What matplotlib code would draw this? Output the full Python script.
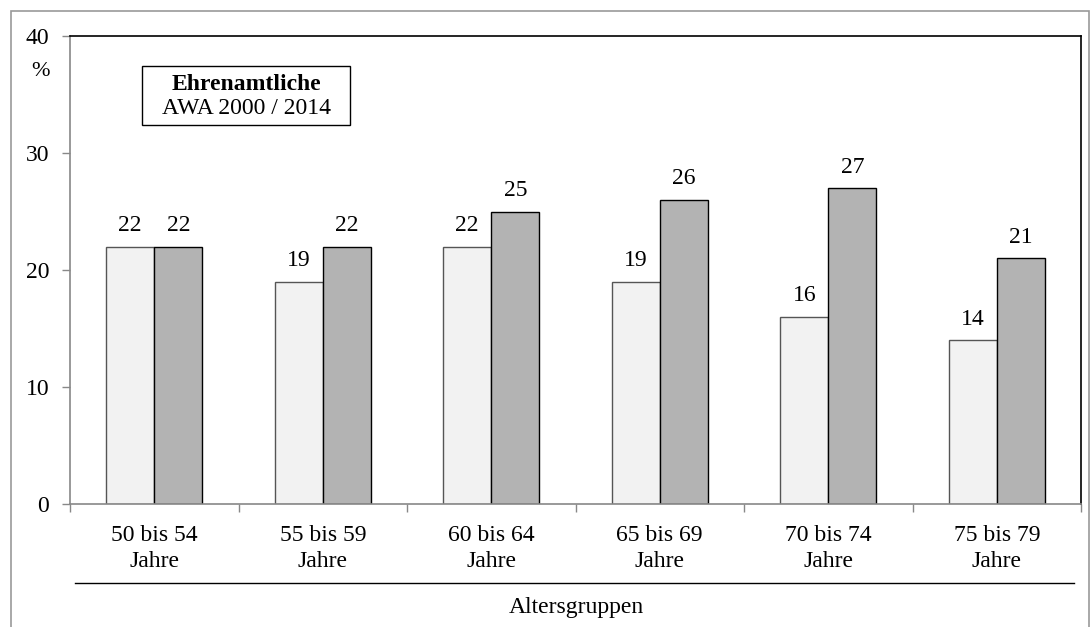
import matplotlib.pyplot as plt
import matplotlib.patches as mpatches
import numpy as np

plt.rcParams['font.family'] = ['Liberation Serif', 'DejaVu Serif']

groups = ['50 bis 54\nJahre', '55 bis 59\nJahre', '60 bis 64\nJahre',
          '65 bis 69\nJahre', '70 bis 74\nJahre', '75 bis 79\nJahre']
awa2000 = [22, 19, 22, 19, 16, 14]
awa2014 = [22, 22, 25, 26, 27, 21]
yticks = [0, 10, 20, 30, 40]

FS = 17
fig = plt.figure(figsize=(10.92, 6.27), dpi=100)
W, H = 1092, 627
ax = fig.add_axes([70 / W, 1 - 504 / H, (1081 - 70) / W, (504 - 36) / H])

x = np.arange(len(groups))
bw = 0.285
ax.bar(x - bw / 2, awa2000, bw, color='#f2f2f2', edgecolor='#555555', linewidth=1)
ax.bar(x + bw / 2, awa2014, bw, color='#b3b3b3', edgecolor='black', linewidth=1)

for xi, v in zip(x, awa2000):
    ax.annotate(str(v), (xi - bw / 2, v), xytext=(0, 7.5), textcoords='offset points',
                ha='center', va='bottom', fontsize=FS)
for xi, v in zip(x, awa2014):
    ax.annotate(str(v), (xi + bw / 2, v), xytext=(0, 7.5), textcoords='offset points',
                ha='center', va='bottom', fontsize=FS)

ax.set_xlim(-0.5, len(groups) - 0.5)
ax.set_ylim(0, 40)
ax.set_yticks(yticks)
ax.set_yticklabels([str(t) for t in yticks], fontsize=FS)
ax.set_xticks(np.arange(len(groups) + 1) - 0.5)
ax.set_xticklabels([])
ax.set_xticks(x, minor=True)
ax.set_xticklabels(groups, minor=True, fontsize=FS, linespacing=1.3)
ax.tick_params(axis='x', which='minor', length=0, pad=15)
ax.tick_params(axis='x', which='major', length=6, color='#888888', width=1)
ax.tick_params(axis='y', length=6, color='#888888', width=1, pad=9)

ax.spines['left'].set_color('#888888')
ax.spines['bottom'].set_color('#888888')
ax.spines['top'].set_color('black')
ax.spines['right'].set_color('black')
for s in ax.spines.values():
    s.set_linewidth(1.2)

# percent sign under top tick
fig.text(41 / W, 1 - 72 / H, '%', fontsize=FS - 1, ha='center', va='center')

# title box
box = mpatches.Rectangle((142 / W, 1 - 125 / H), (350 - 142) / W, (125 - 66) / H,
                         transform=fig.transFigure, facecolor='white',
                         edgecolor='black', linewidth=1)
fig.patches.append(box)
fig.text(246 / W, 1 - 84 / H, 'Ehrenamtliche', fontsize=FS, fontweight='bold',
         ha='center', va='center')
fig.text(246 / W, 1 - 108 / H, 'AWA 2000 / 2014', fontsize=FS,
         ha='center', va='center')

# line under category labels and axis title
fig.add_artist(plt.Line2D([75 / W, 1074 / W], [1 - 583 / H, 1 - 583 / H],
                          color='black', linewidth=1))
fig.text(576 / W, 1 - 607 / H, 'Altersgruppen', fontsize=FS, ha='center', va='center')

# outer gray frame
frame = mpatches.Rectangle((11 / W, -0.05), (1089 - 11) / W, 1 - 11 / H + 0.05,
                           transform=fig.transFigure, facecolor='none',
                           edgecolor='#999999', linewidth=1.2)
fig.patches.append(frame)

fig.savefig('out.png', dpi=100)
